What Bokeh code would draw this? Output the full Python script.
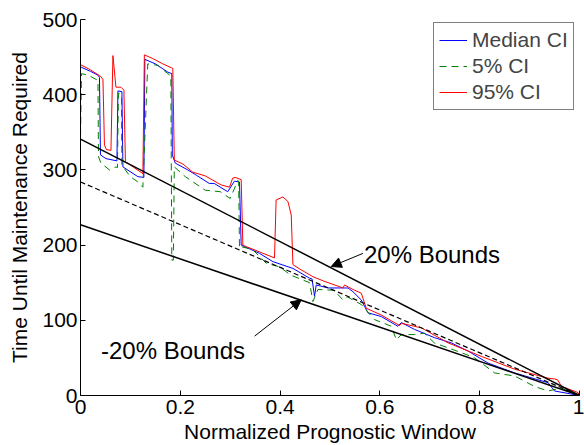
from bokeh.plotting import figure
from bokeh.models import Range1d, Legend, LegendItem, Arrow, NormalHead, Label, FixedTicker
from bokeh.embed import file_html
from bokeh.resources import INLINE

# ---- data ----
x_ticks = [0, 0.2, 0.4, 0.6, 0.8, 1]
x_tick_labels = ["0", "0.2", "0.4", "0.6", "0.8", "1"]
y_ticks = [0, 100, 200, 300, 400, 500]
y_tick_labels = ["0", "100", "200", "300", "400", "500"]

median_x = [0.0, 0.02, 0.035, 0.038, 0.040, 0.051, 0.073, 0.075, 0.083, 0.085, 0.115, 0.127, 0.129,
            0.15, 0.175, 0.183, 0.184, 0.19, 0.215, 0.232, 0.258, 0.268, 0.295, 0.3085, 0.3186, 0.322,
            0.3286, 0.3587, 0.3856, 0.4257, 0.459, 0.464, 0.469, 0.4724, 0.496, 0.536, 0.546, 0.5627,
            0.576, 0.6028, 0.636, 0.643, 0.669, 0.709, 0.743, 0.777, 0.817, 0.870, 0.937, 0.950, 1.0]
median_y = [437, 431, 426, 423, 320, 315, 312, 405, 404, 304, 291, 290, 447,
            441, 430, 428, 320, 309, 300, 293, 282, 282, 271, 285, 284, 200,
            198, 189, 178, 169, 156, 155, 132, 147, 143, 143, 138, 127,
            110, 105, 92, 97, 88, 77, 70, 59, 43, 30, 17, 6, 0]

ci5_x = [0.0, 0.002, 0.015, 0.035, 0.036, 0.041, 0.058, 0.071, 0.074, 0.076, 0.082, 0.083, 0.1,
         0.115, 0.125, 0.1348, 0.155, 0.175, 0.181, 0.183, 0.186, 0.188, 0.21, 0.25, 0.28, 0.30,
         0.3153, 0.317, 0.3186, 0.3216, 0.345, 0.372, 0.399, 0.4217, 0.459, 0.4658, 0.4758, 0.508,
         0.526, 0.535, 0.5627, 0.589, 0.623, 0.633, 0.643, 0.669, 0.689, 0.709, 0.763, 0.790, 0.830,
         0.870, 0.910, 0.937, 0.964, 0.98, 1.0]
ci5_y = [345, 428, 426, 419, 318, 309, 300, 304, 303, 402, 400, 306, 291,
         284, 277, 441, 439, 428, 425, 180, 180, 304, 291, 273, 271, 262,
         286, 284, 196, 198, 194, 176, 171, 160, 150, 125, 141, 140,
         127, 131, 121, 101, 92, 74, 81, 81, 83, 70, 57, 50, 30,
         26, 12, 6, 10, 5, 0]

ci95_x = [0.0, 0.02, 0.041, 0.045, 0.048, 0.052, 0.061, 0.065, 0.071, 0.081, 0.087, 0.090, 0.125,
          0.128, 0.145, 0.165, 0.185, 0.188, 0.205, 0.225, 0.25, 0.282, 0.2985, 0.305, 0.31, 0.322,
          0.3254, 0.332, 0.3888, 0.392, 0.4056, 0.4157, 0.4223, 0.4257, 0.4423, 0.4658, 0.488, 0.526,
          0.5292, 0.546, 0.5627, 0.5727, 0.6028, 0.6395, 0.643, 0.683, 0.7366, 0.8034, 0.870, 0.937,
          0.950, 0.956, 0.964, 0.997, 1.0]
ci95_y = [440, 433, 424, 420, 333, 327, 326, 452, 410, 410, 406, 311, 295,
          453, 448, 441, 435, 313, 308, 297, 292, 280, 277, 289, 290, 287,
          200, 198, 183, 260, 264, 258, 240, 174, 167, 158, 152, 143,
          147, 141, 136, 116, 107, 93, 96, 90, 70, 52, 35, 23,
          22, 21, 12, 4, 0]

bound_x = [0, 1]
upper_bound_y = [341, 0]
mean_y = [284, 0]
lower_bound_y = [227, 0]

FONT = "Liberation Sans"

p = figure(width=584, height=445, output_backend="svg", toolbar_location=None,
           x_range=Range1d(0, 1), y_range=Range1d(0, 500),
           min_border_left=80, min_border_right=5, min_border_top=19, min_border_bottom=49)
p.outline_line_color = None
p.grid.visible = False
p.background_fill_color = "white"
p.border_fill_color = "white"

r_med = p.line(median_x, median_y, line_color="#0000ff", line_width=1)
r_5 = p.line(ci5_x, ci5_y, line_color="#008000", line_width=1, line_dash="7 5")
r_95 = p.line(ci95_x, ci95_y, line_color="#ff0000", line_width=1)
p.line(bound_x, upper_bound_y, line_color="black", line_width=1.5)
p.line(bound_x, mean_y, line_color="black", line_width=1.2, line_dash="5 3")
p.line(bound_x, lower_bound_y, line_color="black", line_width=1.5)

for ax in (p.xaxis[0], p.yaxis[0]):
    ax.axis_line_color = "black"
    ax.axis_line_width = 1
    ax.major_tick_line_color = "black"
    ax.major_tick_in = 5
    ax.major_tick_out = 0
    ax.minor_tick_line_color = None
    ax.major_label_text_font = FONT
    ax.major_label_text_font_size = "21px"
    ax.major_label_text_color = "black"
    ax.axis_label_text_font = FONT
    ax.axis_label_text_font_size = "21px"
    ax.axis_label_text_font_style = "normal"
    ax.axis_label_text_color = "black"

p.xaxis.ticker = FixedTicker(ticks=x_ticks)
p.xaxis.major_label_overrides = dict(zip(x_ticks, x_tick_labels))
p.yaxis.ticker = FixedTicker(ticks=y_ticks)
p.yaxis.major_label_overrides = dict(zip(y_ticks, y_tick_labels))
p.xaxis.major_label_standoff = 4
p.xaxis.axis_label_standoff = 3
p.yaxis.major_label_standoff = 3
p.yaxis.axis_label_standoff = 8
p.xaxis.axis_label = "Normalized Prognostic Window"
p.yaxis.axis_label = "Time Until Maintenance Required"

legend = Legend(items=[LegendItem(label="Median CI", renderers=[r_med]),
                       LegendItem(label="5% CI", renderers=[r_5]),
                       LegendItem(label="95% CI", renderers=[r_95])],
                location=(353, 285), margin=0, padding=5, spacing=2,
                glyph_width=28, glyph_height=24, label_height=24, label_standoff=5,
                label_text_font=FONT, label_text_font_size="21px",
                border_line_color="black", border_line_width=1.2,
                background_fill_alpha=1)
p.add_layout(legend, "center")

head_style = dict(size=10, fill_color="black", line_color="black")
p.add_layout(Arrow(end=NormalHead(**head_style), x_start=0.566, y_start=189, x_end=0.5025, y_end=171.5,
                   line_color="black", line_width=1))
p.add_layout(Arrow(end=NormalHead(**head_style), x_start=0.349, y_start=79, x_end=0.4423, y_end=127.3,
                   line_color="black", line_width=1))
p.add_layout(Label(x=0.568, y=187, text="20% Bounds", text_font=FONT, text_font_size="24px",
                   text_baseline="middle", text_align="left", text_color="black"))
p.add_layout(Label(x=0.041, y=60, text="-20% Bounds", text_font=FONT, text_font_size="24px",
                   text_baseline="middle", text_align="left", text_color="black"))

open("out.html", "w").write(file_html(p, INLINE))
